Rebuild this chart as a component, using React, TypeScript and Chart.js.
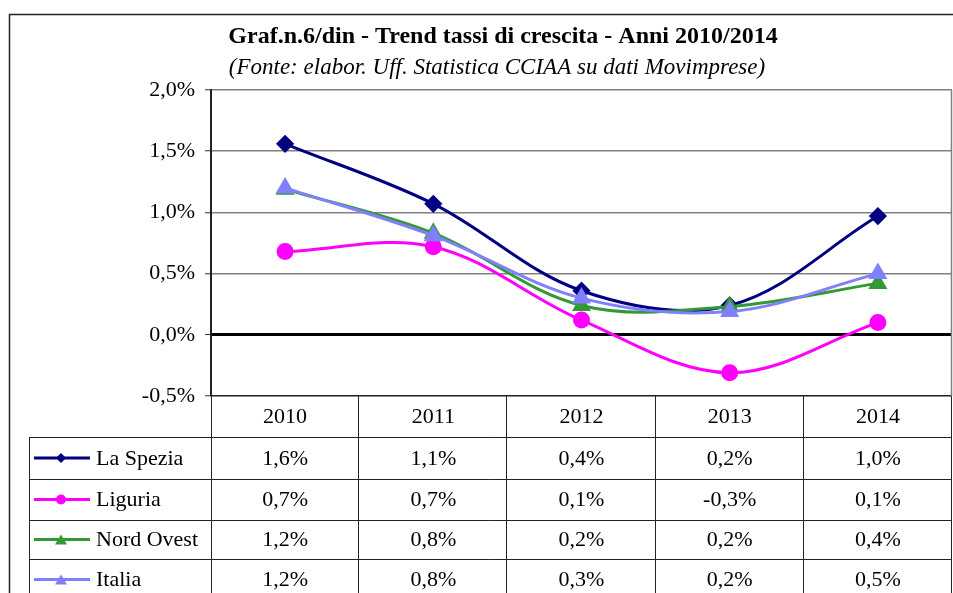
import React, { useEffect, useRef } from "react";
import { Chart, registerables } from "chart.js";

Chart.register(...registerables);

const TITLE = "Graf.n.6/din - Trend tassi di crescita - Anni 2010/2014";
const SUBTITLE = "(Fonte: elabor. Uff. Statistica CCIAA su dati Movimprese)";
const categories = ["2010", "2011", "2012", "2013", "2014"];
const laSpezia = [1.56, 1.07, 0.36, 0.24, 0.97];
const liguria = [0.68, 0.72, 0.12, -0.31, 0.1];
const nordOvest = [1.19, 0.83, 0.24, 0.23, 0.42];
const italia = [1.2, 0.81, 0.3, 0.19, 0.5];
const seriesNames = ["La Spezia", "Liguria", "Nord Ovest", "Italia"];
const seriesValues = [laSpezia, liguria, nordOvest, italia];
const seriesColors = ["#000080", "#FF00FF", "#339933", "#8080FF"];
const seriesMarkers = ["rectRot", "circle", "triangle", "triangle"];
const markerRadius = [7, 7, 8, 8];
const yTicks = [-0.5, 0, 0.5, 1, 1.5, 2];

const SERIF = "'Liberation Serif', 'Times New Roman', serif";
const TEXT_SIZE = 22;

const fmt = (v: number) => v.toFixed(1).replace(".", ",") + "%";

const tablePlugin = {
  id: "dataTable",
  afterDraw(chart: any) {
    const ctx = chart.ctx;
    const { left, right, top, bottom } = chart.chartArea;
    const xs = chart.scales.x;
    const n = categories.length;
    const colW = (right - left) / n;
    ctx.save();
    // frame
    ctx.strokeStyle = "#222";
    ctx.lineWidth = 1.5;
    ctx.beginPath();
    ctx.moveTo(9.5, 600);
    ctx.lineTo(9.5, 14.5);
    ctx.lineTo(970, 14.5);
    ctx.stroke();
    // title
    ctx.fillStyle = "#000";
    ctx.textAlign = "center";
    ctx.textBaseline = "middle";
    ctx.font = "bold 24px " + SERIF;
    ctx.fillText(TITLE, 503, 37);
    ctx.font = "italic 23px " + SERIF;
    ctx.fillText(SUBTITLE, 497, 68);
    // plot right border
    ctx.strokeStyle = "#808080";
    ctx.lineWidth = 1.5;
    ctx.beginPath();
    ctx.moveTo(right - 0.5, top);
    ctx.lineTo(right - 0.5, bottom);
    ctx.stroke();
    // table grid
    const tableLeft = 29.5;
    const rowTops = [437, 479, 520, 559, 600];
    ctx.strokeStyle = "#222";
    ctx.lineWidth = 1;
    ctx.beginPath();
    for (let i = 0; i <= n; i++) {
      const x = Math.round(left + i * colW) - 0.5 + (i === 0 ? 1 : 0);
      ctx.moveTo(x, bottom);
      ctx.lineTo(x, 600);
    }
    ctx.moveTo(tableLeft, rowTops[0]);
    ctx.lineTo(tableLeft, 600);
    for (let r = 0; r < 4; r++) {
      ctx.moveTo(tableLeft, rowTops[r] + 0.5);
      ctx.lineTo(right, rowTops[r] + 0.5);
    }
    ctx.stroke();
    // year header
    ctx.font = TEXT_SIZE + "px " + SERIF;
    ctx.fillStyle = "#000";
    ctx.textAlign = "center";
    ctx.textBaseline = "middle";
    categories.forEach((c, i) => {
      ctx.fillText(c, xs.getPixelForValue(i), 417);
    });
    // rows
    seriesNames.forEach((name, r) => {
      const cy = (rowTops[r] + rowTops[r + 1]) / 2 + 1;
      const color = seriesColors[r];
      ctx.strokeStyle = color;
      ctx.fillStyle = color;
      ctx.lineWidth = 3;
      ctx.beginPath();
      ctx.moveTo(34, cy - 1);
      ctx.lineTo(90, cy - 1);
      ctx.stroke();
      const mx = 61, my = cy - 1;
      ctx.beginPath();
      if (seriesMarkers[r] === "rectRot") {
        ctx.moveTo(mx, my - 5);
        ctx.lineTo(mx + 5, my);
        ctx.lineTo(mx, my + 5);
        ctx.lineTo(mx - 5, my);
      } else if (seriesMarkers[r] === "circle") {
        ctx.arc(mx, my, 5, 0, Math.PI * 2);
      } else {
        ctx.moveTo(mx, my - 5);
        ctx.lineTo(mx + 6, my + 5);
        ctx.lineTo(mx - 6, my + 5);
      }
      ctx.closePath();
      ctx.fill();
      ctx.fillStyle = "#000";
      ctx.textAlign = "left";
      ctx.fillText(name, 96, cy);
      ctx.textAlign = "center";
      seriesValues[r].forEach((v, i) => {
        ctx.fillText(fmt(v), xs.getPixelForValue(i), cy);
      });
    });
    ctx.restore();
  },
};

export default function App() {
  const ref = useRef<HTMLCanvasElement | null>(null);
  useEffect(() => {
    if (!ref.current) return;
    const chart = new Chart(ref.current, {
      type: "line",
      data: {
        labels: categories,
        datasets: seriesNames.map((name, i) => ({
          label: name,
          data: seriesValues[i],
          borderColor: seriesColors[i],
          backgroundColor: seriesColors[i],
          pointBackgroundColor: seriesColors[i],
          pointBorderColor: seriesColors[i],
          pointStyle: seriesMarkers[i] as any,
          pointRadius: markerRadius[i],
          borderWidth: 3,
          tension: 0.35,
          fill: false,
          order: seriesNames.length - i,
        })),
      },
      options: {
        responsive: false,
        animation: false,
        layout: { padding: { top: 90, right: 0, left: 0, bottom: 0 } },
        plugins: {
          legend: { display: false },
          title: { display: false },
          tooltip: { enabled: false },
        },
        scales: {
          x: {
            type: "category",
            offset: true,
            grid: { display: false, drawTicks: false },
            border: { display: false },
            ticks: { display: false },
            afterFit: (s: any) => {
              s.height = 197;
            },
          },
          y: {
            min: -0.5,
            max: 2,
            afterBuildTicks: (s: any) => {
              s.ticks = yTicks.map((v) => ({ value: v }));
            },
            grid: {
              color: (c: any) =>
                c.tick && c.tick.value === 0
                  ? "#000"
                  : c.tick && c.tick.value === -0.5
                  ? "#222"
                  : "#808080",
              lineWidth: (c: any) => (c.tick && c.tick.value === 0 ? 3 : 1.5),
              tickLength: 6,
              tickColor: "#333",
              tickWidth: 1,
            },
            border: { display: true, color: "#222", width: 2 },
            ticks: {
              color: "#000",
              font: { family: SERIF, size: TEXT_SIZE },
              padding: 10,
              callback: (v: any) => fmt(Number(v)),
            },
            afterFit: (s: any) => {
              s.width = 211;
            },
          },
        },
      },
      plugins: [tablePlugin],
    });
    return () => chart.destroy();
  }, []);
  return (
    <div
      style={{
        position: "fixed",
        left: 0,
        top: 0,
        width: 953,
        height: 593,
        background: "#fff",
        overflow: "hidden",
      }}
    >
      <canvas ref={ref} width={963} height={593} />
    </div>
  );
}
